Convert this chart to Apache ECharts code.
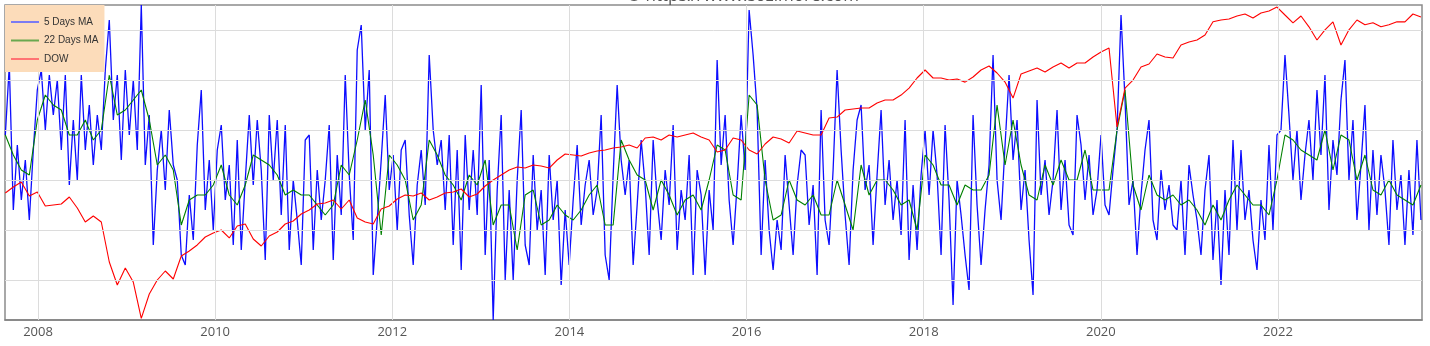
<!DOCTYPE html>
<html><head><meta charset="utf-8">
<script src="https://cdn.jsdelivr.net/npm/echarts@6/dist/echarts.min.js"></script>
<style>html,body{margin:0;padding:0;background:#fff}#c{width:1430px;height:346px}</style>
</head><body><div id="c"></div><script>
// sampling (decimal years)
const START_YEAR = 2007.631;
const MA5_STEP = 0.04515;
const MA22_STEP = 0.0903;
const DOW_STEP = 0.0903;

const yearTicks = [2008, 2010, 2012, 2014, 2016, 2018, 2020, 2022];
const maGridValues = [0, 1, 2, 3, 4, 5];
const titleText = '© https://www.sozimore.com';

const ma5 = [
2.9,4.3,1.4,2.7,1.6,2.4,1.2,2.6,3.8,4.2,
3.0,4.1,3.3,4.0,2.6,4.1,1.9,3.2,2.0,4.1,
2.6,3.5,2.3,3.3,2.6,4.2,5.2,3.2,4.1,2.4,
4.2,2.9,4.0,2.6,5.5,2.3,3.3,0.7,2.2,3.0,
1.8,3.4,2.3,2.0,0.5,0.3,1.7,0.8,2.7,3.8,
1.4,2.4,1.0,2.6,3.1,1.6,2.3,0.7,
2.8,0.6,
2.0,3.3,1.9,3.2,2.2,0.4,3.3,2.0,3.2,1.3,
3.1,0.6,2.0,1.2,0.3,2.8,2.9,0.6,2.2,1.2,
2.0,3.1,0.4,2.5,1.3,4.1,2.1,0.8,4.6,5.1,
3.0,4.2,0.1,1.2,2.4,3.7,1.8,2.5,1.0,2.6,
2.8,1.3,0.3,1.9,2.6,1.5,4.5,3.0,2.3,2.8,
1.4,2.9,0.7,2.6,0.2,2.9,1.4,
2.6,1.3,3.9,
0.5,2.4,-0.8,1.8,3.3,0.0,1.8,0.0,2.0,3.4,
0.7,0.3,2.5,1.0,1.8,0.1,2.5,1.2,2.0,-0.1,
1.4,0.3,1.6,2.7,1.1,1.9,2.4,1.3,1.8,3.3,
0.5,0.0,2.1,3.9,2.4,1.7,2.4,0.3,1.5,2.8,
1.9,0.5,2.8,1.6,0.8,2.2,1.5,3.1,0.6,1.8,
1.2,2.5,0.1,2.2,1.7,0.1,
1.8,1.0,4.4,2.3,
3.3,1.6,0.7,1.9,3.3,2.2,5.4,4.5,3.4,0.5,
2.4,1.0,0.2,1.2,0.6,2.5,1.5,0.5,1.9,2.6,
2.5,1.1,1.9,0.1,3.4,1.2,0.7,2.2,4.2,2.6,
1.3,0.3,2.2,3.2,3.5,1.8,2.3,0.7,2.1,3.4,
1.5,2.4,1.2,2.0,0.9,3.2,0.4,1.9,0.6,2.1,
3.0,1.7,3.0,2.1,
0.5,3.1,1.6,-0.5,2.0,1.3,
0.5,-0.2,3.3,1.5,0.3,1.4,2.3,4.5,2.0,1.2,
2.7,4.1,2.4,3.2,1.4,2.2,0.8,-0.3,3.6,1.7,
2.4,1.3,2.0,3.4,1.4,2.4,1.1,0.9,3.3,2.7,
1.6,2.5,1.3,1.8,2.9,1.5,1.3,2.2,3.0,5.3,
3.6,1.5,2.0,0.5,1.7,2.6,3.2,1.2,0.8,2.2,
1.4,1.9,1.1,
1.0,2.0,0.5,2.3,1.7,1.2,0.5,
1.8,2.5,0.4,1.6,-0.1,1.8,0.5,2.8,1.0,2.6,
1.2,1.8,0.8,0.2,1.6,0.8,2.7,1.0,2.9,3.0,
4.5,3.3,2.0,3.0,1.6,2.5,3.2,2.0,3.8,2.5,
4.1,1.4,2.8,2.1,3.6,4.4,2.0,3.2,1.2,2.3,
3.5,1.0,2.6,1.3,2.5,1.8,0.7,2.8,1.4,2.1,
0.7,2.2,0.9,2.8,1.2
];

const ma22 = [
2.9,2.5,2.2,2.1,3.2,3.7,3.5,3.4,2.9,2.9,
3.2,2.8,3.0,4.1,3.3,3.4,3.6,3.8,3.2,2.3,
2.5,2.2,1.1,1.6,1.7,1.7,1.9,2.3,1.7,1.5,
1.9,2.5,2.4,2.3,2.1,1.7,1.8,1.7,1.7,1.5,
1.3,1.5,2.3,2.1,2.8,3.6,2.5,0.9,2.5,2.3,
2.0,1.2,1.5,2.8,2.5,2.1,1.9,1.6,2.1,
1.9,2.4,1.1,1.5,1.5,0.6,1.7,1.8,1.1,1.2,1.5,
1.3,1.2,1.4,1.7,1.9,1.1,1.1,2.8,2.4,2.1,
2.0,1.4,2.0,1.7,1.3,1.6,1.7,1.4,2.0,
2.7,2.6,1.7,1.6,3.7,3.5,2.0,1.2,1.3,2.0,1.6,
1.5,1.7,1.3,1.3,2.0,1.5,1.0,2.3,1.7,2.0,
2.0,1.8,1.5,1.6,1.0,2.5,2.3,1.9,
1.9,1.5,1.9,1.8,1.8,2.1,3.5,2.3,3.2,2.3,1.7,1.6,
2.3,1.9,2.4,2.0,2.0,2.6,1.8,1.8,1.8,3.0,
3.8,1.9,1.4,2.1,1.7,1.6,1.7,
1.5,1.6,1.4,1.1,1.5,1.2,1.6,1.9,1.7,1.5,1.5,1.3,2.0,
2.9,2.8,2.6,2.5,2.4,3.0,2.2,2.9,2.8,2.0,
2.5,1.8,1.7,2.0,1.7,1.6,1.5,1.9
];

const dow = [
13133,13577,13958,12917,13206,12222,12290,12358,12845,12087,
11185,11563,11185,8963,7889,8668,8021,6560,7507,8112,
8526,8157,9265,9526,9848,10293,10524,10700,10237,10940,
11062,10180,9794,10351,10582,11062,11247,11692,11954,12358,
12427,12634,12020,12634,11435,11185,11062,12020,12222,12704,
12989,12917,13133,12634,12845,13133,13206,13428,12845,
13061,13653,14113,14509,14916,15166,15082,15335,15250,15082,15766,
16299,16209,16119,16389,16572,16664,16849,16943,17131,16849,
17809,17908,17613,18107,17908,18107,18309,17908,17613,
16480,16664,17809,17613,16664,16299,17227,17908,17710,17323,18512,
18309,18107,18107,19890,20001,20801,20917,21033,21033,21618,
21980,21980,22593,23481,24828,25954,24828,24828,
24554,24691,24269,24966,25954,26536,25526,24269,22220,25385,25810,26243,
25668,26389,26981,26243,26981,26981,27897,28680,29322,18927,
23481,24554,26389,26831,28363,27897,27742,
29814,30312,30642,31501,33888,34234,34424,35000,35389,34615,35586,35982,36784,
35194,33701,35000,32963,30642,32421,33888,29800,32421,34234,
33332,33701,32963,33332,33888,33888,35389,34807
];

function toPairs(vals, step) {
  return vals.map((v, i) => [START_YEAR + i * step, v]);
}

const chart = echarts.init(document.getElementById('c'), null, { renderer: 'canvas' });
chart.setOption({
  animation: false,
  backgroundColor: '#ffffff',
  graphic: [{
    type: 'text', x: 743, y: 4.5, silent: true, z: 30,
    style: {
      text: titleText, fill: '#555', font: '17px "Open Sans"',
      align: 'center', verticalAlign: 'bottom', textAlign: 'center', textVerticalAlign: 'bottom'
    }
  }],
  grid: { left: 5, right: 8, top: 5, bottom: 26, show: true, borderColor: '#8c8c8c', borderWidth: 1.5 },
  legend: {
    orient: 'vertical', left: 5, top: 5, z: 20,
    backgroundColor: '#fcdcba',
    padding: [11, 6, 7, 6],
    icon: 'rect', itemWidth: 28, itemHeight: 2, itemGap: 6.5,
    textStyle: { fontSize: 10, color: '#333', fontFamily: 'Liberation Sans', lineHeight: 12 },
    data: [
      { name: '5 Days MA', itemStyle: { color: '#7b7bf2' } },
      { name: '22 Days MA', itemStyle: { color: '#6aa84f' } },
      { name: 'DOW', itemStyle: { color: '#ff7373' } }
    ]
  },
  xAxis: {
    type: 'value', min: 2007.6274, max: 2023.626,
    axisLine: { show: true, onZero: false, lineStyle: { color: '#808080', width: 1.5 } },
    axisTick: { show: false },
    splitLine: { show: false },
    axisLabel: {
      customValues: yearTicks,
      formatter: v => String(Math.round(v)),
      color: '#555', fontSize: 13, margin: 6, fontFamily: 'Open Sans'
    }
  },
  yAxis: [
    { type: 'value', min: -0.8, max: 5.5, show: false },
    { type: 'log', min: 6500, max: 37200, show: false }
  ],
  series: [
    {
      name: 'grid', type: 'line', data: [], z: 1, silent: true,
      markLine: {
        silent: true, symbol: ['none', 'none'], animation: false,
        label: { show: false },
        lineStyle: { color: '#dcdcdc', width: 1, type: 'solid' },
        data: maGridValues.map(v => ({ yAxis: v })).concat(yearTicks.map(y => ({ xAxis: y })))
      }
    },
    {
      name: '5 Days MA', type: 'line', data: toPairs(ma5, MA5_STEP), z: 2,
      showSymbol: false, symbol: 'none',
      lineStyle: { color: '#0000ff', width: 1.3, opacity: 0.95 },
      itemStyle: { color: '#0000ff' }
    },
    {
      name: '22 Days MA', type: 'line', data: toPairs(ma22, MA22_STEP), z: 3,
      showSymbol: false, symbol: 'none',
      lineStyle: { color: '#008000', width: 1.1 },
      itemStyle: { color: '#008000' }
    },
    {
      name: 'DOW', type: 'line', yAxisIndex: 1, data: toPairs(dow, DOW_STEP), z: 4,
      showSymbol: false, symbol: 'none',
      lineStyle: { color: '#ff0000', width: 1.1 },
      itemStyle: { color: '#ff0000' }
    }
  ]
});
</script></body></html>
